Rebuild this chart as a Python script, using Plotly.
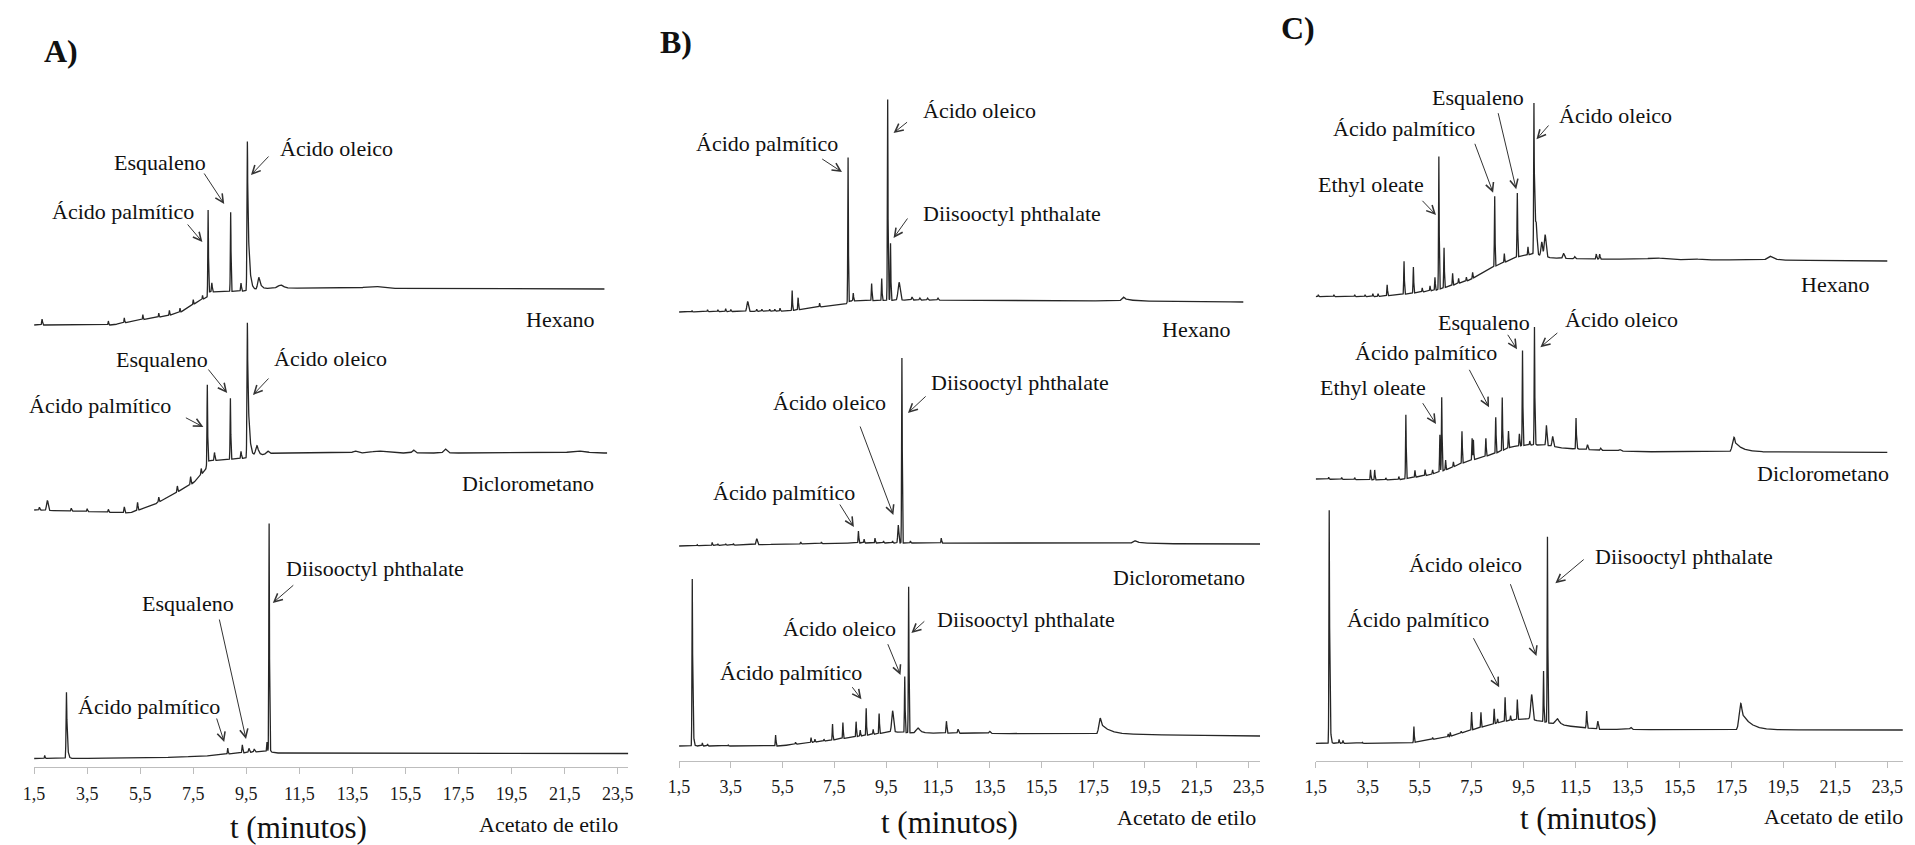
import numpy as np
import plotly.graph_objects as go

# ---------------- data: retention time (min) and detector signal (a.u.) ----------------
tick_vals = [1.5, 3.5, 5.5, 7.5, 9.5, 11.5, 13.5, 15.5, 17.5, 19.5, 21.5, 23.5]
tick_text = ["1,5", "3,5", "5,5", "7,5", "9,5", "11,5", "13,5", "15,5", "17,5", "19,5", "21,5", "23,5"]

# ---- Panel A ----
a_hex_base_t = [1.5, 4.45, 5.5, 6.5, 7.03, 7.66, 8.03, 8.08, 9.4, 10.5, 23.0]
a_hex_base_i = [442, 442, 447, 451, 455, 465, 470, 475, 476, 479, 478]
a_hex_pk_t = [1.8, 4.3, 4.9, 5.6, 6.2, 6.6, 7.0, 7.5, 7.85, 8.06, 8.2, 8.91, 9.3, 9.54, 9.97, 10.8, 14.3]
a_hex_pk_h = [6, 4, 5, 5, 4, 5, 4, 5, 4, 84, 9, 79, 8, 149, 12, 3, 2]
a_hex_pk_w = [.015, .012, .012, .012, .012, .012, .012, .012, .012, .012, .015, .012, .015, .015, .04, .1, .3]
a_hex_pk_tail = [0, 0, 0, 0, 0, 0, 0, 0, 0, 0, 0, 0, 0, .06, .08, 0, 0]

a_dic_base_t = [1.5, 5.1, 6.0, 6.7, 7.5, 7.96, 8.06, 9.5, 10.5, 23.1]
a_dic_base_i = [257, 254, 262, 272, 284, 297, 306, 309, 314, 314]
a_dic_pk_t = [1.7, 2.0, 2.9, 3.5, 4.3, 4.9, 5.4, 6.2, 6.9, 7.4, 7.8, 8.03, 8.3, 8.9, 9.3, 9.54, 9.9, 10.3, 13.6, 14.5, 15.8, 17.0, 22.0]
a_dic_pk_h = [3, 10, 3, 3, 3, 6, 8, 5, 6, 8, 6, 79, 8, 61, 7, 135, 10, 3, 2, 2, 3, 4, 2]
a_dic_pk_w = [.015, .03, .015, .015, .015, .015, .015, .015, .015, .015, .015, .012, .015, .012, .015, .015, .05, .05, .08, .25, .05, .06, .3]
a_dic_pk_tail = [0, 0, 0, 0, 0, 0, 0, 0, 0, 0, 0, 0, 0, 0, 0, .06, .06, 0, 0, 0, 0, 0, 0]

a_ace_base_t = [1.5, 6.0, 8.0, 8.8, 10.3, 10.6, 23.9]
a_ace_base_i = [8.5, 9, 11, 13, 16, 14, 13.5]
a_ace_pk_t = [1.9, 2.72, 8.8, 9.35, 9.6, 9.8, 10.28, 10.36]
a_ace_pk_h = [3, 66, 6, 8, 4, 3, 9, 228]
a_ace_pk_w = [.012, .015, .012, .015, .02, .02, .012, .012]
a_ace_pk_tail = [0, .03, 0, 0, 0, 0, 0, .01]

# ---- Panel B ----
b_hex_base_t = [1.5, 5.7, 6.93, 7.95, 8.1, 10.5, 18.5, 23.3]
b_hex_base_i = [448.7, 449.7, 453.7, 456.7, 459.7, 460.7, 459.7, 458.7]
b_hex_pk_t = [2.0, 2.6, 3.0, 3.3, 3.5, 4.15, 4.5, 4.7, 5.0, 5.2, 5.4, 5.87, 6.1, 6.93, 8.03, 8.23, 8.94, 9.33, 9.56, 9.67, 10.0, 10.5, 10.8, 11.1, 11.5, 18.66]
b_hex_pk_h = [1, 2, 2, 3, 2, 10, 2, 2, 2, 2, 3, 20, 12, 4, 145, 8, 17, 22, 201, 57, 18, 3, 2, 2, 2, 4]
b_hex_pk_w = [.012, .012, .012, .012, .012, .03, .012, .012, .012, .012, .012, .012, .012, .012, .012, .012, .012, .012, .012, .012, .04, .02, .02, .02, .02, .06]
b_hex_pk_tail = [0, 0, 0, 0, 0, 0, 0, 0, 0, 0, 0, 0, 0, 0, 0, 0, 0, 0, .01, 0, 0, 0, 0, 0, 0, .3]

b_dic_base_t = [1.5, 8.3, 10.5, 23.95]
b_dic_base_i = [214.7, 217.7, 217.7, 216.7]
b_dic_pk_t = [2.2, 2.78, 3.0, 3.3, 3.6, 4.5, 6.2, 7.0, 8.43, 8.65, 9.07, 9.4, 9.75, 9.97, 10.11, 10.44, 11.63, 19.1]
b_dic_pk_h = [1, 3, 1.5, 1.5, 1.5, 6, 2, 1.5, 12, 4, 5, 2, 2, 18, 185, 2, 5, 3]
b_dic_pk_w = [.012, .012, .012, .012, .012, .025, .012, .012, .012, .012, .012, .012, .012, .02, .012, .012, .012, .08]
b_dic_pk_tail = [0, 0, 0, 0, 0, 0, 0, 0, 0, 0, 0, 0, 0, 0, 0, 0, 0, .3]

b_ace_base_t = [1.5, 5.37, 7.25, 8.33, 9.75, 10.5, 17.5, 23.95]
b_ace_base_i = [14.7, 14.7, 20, 24, 29, 27.7, 26.7, 24.7]
b_ace_pk_t = [2.01, 2.4, 2.6, 3.4, 5.23, 6.0, 6.6, 6.75, 7.1, 7.43, 7.83, 8.34, 8.5, 8.73, 9.0, 9.23, 9.75, 10.22, 10.37, 10.73, 11.83, 12.28, 13.5, 17.77]
b_ace_pk_h = [167, 3, 2, 1, 11, 2, 5, 3, 2, 16, 16, 15, 6, 27, 5, 20, 21, 56, 146, 5, 12, 4, 2, 16]
b_ace_pk_w = [.012, .012, .012, .012, .012, .012, .012, .012, .012, .012, .012, .012, .012, .012, .012, .012, .035, .012, .012, .07, .015, .02, .03, .05]
b_ace_pk_tail = [.02, 0, 0, 0, 0, 0, 0, 0, 0, 0, 0, 0, 0, 0, 0, 0, 0, 0, 0, .1, 0, 0, 0, .35]

# ---- Panel C ----
c_hex_base_t = [1.5, 3.84, 5.0, 6.17, 7.43, 8.36, 9.3, 9.85, 10.6, 12.0, 23.5]
c_hex_base_i = [464, 464, 466.7, 470.7, 480.7, 494, 504, 506.7, 502.7, 501.7, 499.7]
c_hex_pk_t = [1.6, 2.2, 3.0, 3.4, 3.7, 3.9, 4.25, 4.9, 5.26, 5.6, 5.9, 6.09, 6.24, 6.44, 6.77, 7.0, 7.3, 7.54, 8.39, 8.76, 9.26, 9.67, 9.9, 9.99, 10.2, 10.33, 11.04, 11.47, 12.3, 12.43, 14.6, 16.0, 18.98]
c_hex_pk_h = [2, 2, 2, 2, 3, 3, 11, 33, 26, 4, 5, 13, 133, 40, 12, 5, 4, 6, 70, 9, 64, 8, 151, 25, 14, 22, 5, 2, 5, 5, 1.5, 1, 4]
c_hex_pk_w = [.012, .012, .012, .012, .012, .012, .012, .012, .012, .012, .012, .012, .012, .012, .012, .012, .012, .012, .012, .012, .012, .012, .012, .03, .03, .035, .03, .02, .015, .015, .3, .2, .1]
c_hex_pk_tail = [0, 0, 0, 0, 0, 0, 0, 0, 0, 0, 0, 0, 0, 0, 0, 0, 0, 0, 0, 0, 0, 0, .03, 0, 0, 0, 0, 0, 0, 0, 0, 0, .2]

c_dic_base_t = [1.5, 3.95, 4.77, 5.86, 6.5, 7.13, 7.77, 8.43, 9.04, 9.7, 10.3, 11.08, 12.22, 13.88, 23.5]
c_dic_base_i = [281.7, 280.7, 281.2, 285.7, 290.7, 297.4, 302.4, 307.4, 314, 315.7, 315.7, 312.4, 310.7, 309, 308.4]
c_dic_pk_t = [2.0, 2.5, 3.0, 3.61, 3.77, 4.2, 4.7, 4.97, 5.32, 5.71, 6.0, 6.28, 6.35, 6.5, 6.8, 7.13, 7.52, 7.57, 8.05, 8.43, 8.68, 8.92, 9.34, 9.46, 9.74, 9.92, 10.38, 10.62, 11.52, 11.96, 12.47, 13.2, 17.6]
c_dic_pk_h = [2, 2, 2, 10, 10, 2, 3, 64, 7, 6, 4, 37, 74, 10, 5, 32, 22, 20, 18, 36, 53, 17, 12, 95, 4, 118, 20, 10, 31, 5, 2, 1.5, 14.7]
c_dic_pk_w = [.012, .012, .012, .012, .012, .012, .012, .012, .012, .012, .012, .012, .012, .012, .012, .012, .012, .012, .012, .012, .012, .012, .012, .012, .012, .012, .02, .025, .012, .02, .02, .04, .06]
c_dic_pk_tail = [0, 0, 0, 0, 0, 0, 0, 0, 0, 0, 0, 0, 0, 0, 0, 0, 0, 0, 0, 0, 0, 0, 0, 0, 0, .01, 0, 0, .015, 0, 0, 0, .3]

c_ace_base_t = [1.5, 5.08, 6.64, 7.73, 8.67, 9.6, 10.85, 12.4, 17.6, 24.1]
c_ace_base_i = [17.4, 17.4, 24, 32.4, 39, 42.4, 35.7, 31.4, 30.7, 30.7]
c_ace_pk_t = [2.02, 2.4, 2.55, 3.3, 5.28, 6.0, 6.6, 6.68, 7.1, 7.5, 7.86, 8.37, 8.5, 8.79, 9.0, 9.26, 9.81, 10.27, 10.42, 10.8, 11.93, 12.36, 13.63, 17.86]
c_ace_pk_h = [233, 4, 3, 1, 16, 2, 3, 4, 2, 18, 15, 15, 4, 24, 5, 20, 25, 51, 186, 6, 17, 8, 2, 26.7]
c_ace_pk_w = [.012, .012, .012, .012, .012, .012, .012, .012, .012, .012, .012, .012, .012, .012, .012, .012, .035, .012, .012, .07, .015, .02, .03, .06]
c_ace_pk_tail = [.02, 0, 0, 0, 0, 0, 0, 0, 0, 0, 0, 0, 0, 0, 0, 0, 0, 0, 0, .1, 0, 0, 0, .35]

# ---------------- layout geometry (pixels of the 1915x845 page) ----------------
W, H = 1915, 845
panels = {
    # x pixel of t=1.5, pixels per minute, x range end, y pixel of the axis line
    "A": dict(x0=23.3, ppm=26.75, xend=23.9, axy=767.0, xa="x", ya="y"),
    "B": dict(x0=673.7, ppm=26.1, xend=23.95, axy=760.7, xa="x2", ya="y2"),
    "C": dict(x0=1315.7, ppm=26.2, xend=24.1, axy=760.7, xa="x3", ya="y3"),
}

LINE = "#262626"
FONT = "'Liberation Serif', 'Times New Roman', Tinos, 'DejaVu Serif', 'Noto Serif', serif"


def chromatogram(base_t, base_i, pk_t, pk_h, pk_w, pk_tail):
    grid = np.arange(1.5, base_t[-1] + 1e-9, 0.004)
    t = np.unique(np.concatenate([grid, np.array(pk_t)]))
    y = np.interp(t, base_t, base_i)
    for t0, h, w, tau in zip(pk_t, pk_h, pk_w, pk_tail):
        d = t - t0
        g = np.exp(-0.5 * (d / w) ** 2)
        if tau > 0:
            right = d > w
            g = np.where(right, np.exp(-0.5) * np.exp(-(d - w) / tau), g)
        y = y + h * g
    return t, y


traces = [
    ("A", a_hex_base_t, a_hex_base_i, a_hex_pk_t, a_hex_pk_h, a_hex_pk_w, a_hex_pk_tail),
    ("A", a_dic_base_t, a_dic_base_i, a_dic_pk_t, a_dic_pk_h, a_dic_pk_w, a_dic_pk_tail),
    ("A", a_ace_base_t, a_ace_base_i, a_ace_pk_t, a_ace_pk_h, a_ace_pk_w, a_ace_pk_tail),
    ("B", b_hex_base_t, b_hex_base_i, b_hex_pk_t, b_hex_pk_h, b_hex_pk_w, b_hex_pk_tail),
    ("B", b_dic_base_t, b_dic_base_i, b_dic_pk_t, b_dic_pk_h, b_dic_pk_w, b_dic_pk_tail),
    ("B", b_ace_base_t, b_ace_base_i, b_ace_pk_t, b_ace_pk_h, b_ace_pk_w, b_ace_pk_tail),
    ("C", c_hex_base_t, c_hex_base_i, c_hex_pk_t, c_hex_pk_h, c_hex_pk_w, c_hex_pk_tail),
    ("C", c_dic_base_t, c_dic_base_i, c_dic_pk_t, c_dic_pk_h, c_dic_pk_w, c_dic_pk_tail),
    ("C", c_ace_base_t, c_ace_base_i, c_ace_pk_t, c_ace_pk_h, c_ace_pk_w, c_ace_pk_tail),
]

fig = go.Figure()
for p, bt, bi, pt, ph, pw, ptail in traces:
    t, y = chromatogram(bt, bi, pt, ph, pw, ptail)
    fig.add_trace(go.Scatter(x=t, y=y, mode="lines", xaxis=panels[p]["xa"], yaxis=panels[p]["ya"],
                             line=dict(color=LINE, width=1.3), hoverinfo="skip", showlegend=False))

layout_axes = {}
for i, (p, cfg) in enumerate(panels.items()):
    sfx = "" if i == 0 else str(i + 1)
    x_start = cfg["x0"] / W
    x_end = (cfg["x0"] + (cfg["xend"] - 1.5) * cfg["ppm"]) / W
    layout_axes["xaxis" + sfx] = dict(
        domain=[x_start, x_end], range=[1.5, cfg["xend"]], anchor="y" + sfx,
        showline=True, linecolor="#bdbdbd", linewidth=1, ticks="outside", ticklen=6,
        tickcolor="#bdbdbd", tickwidth=1, tickvals=tick_vals, ticktext=tick_text,
        ticklabelstandoff=4,
        tickfont=dict(family=FONT, size=18, color="#1a1a1a"), showgrid=False, zeroline=False,
    )
    layout_axes["yaxis" + sfx] = dict(
        domain=[(H - cfg["axy"]) / H, 1.0], range=[0, cfg["axy"]], anchor="x" + sfx,
        visible=False, showgrid=False, zeroline=False,
    )

annotations = []


def label(text, X, Y, anchor="left", size=22, bold=False):
    annotations.append(dict(
        text=("<b>%s</b>" % text) if bold else text, x=X / W, y=1 - Y / H, xref="paper", yref="paper",
        xanchor=anchor, yanchor="middle", showarrow=False,
        font=dict(family=FONT, size=size, color="#111111")))


def arrow(x1, y1, x2, y2):
    annotations.append(dict(
        text="", x=x2 / W, y=1 - y2 / H, xref="paper", yref="paper",
        ax=x1 - x2, ay=y1 - y2, axref="pixel", ayref="pixel", showarrow=True,
        arrowhead=5, arrowsize=1.6, arrowwidth=1, arrowcolor="#333333", standoff=0))


# Panel A
label("A)", 31, 51, size=32, bold=True)
label("Ácido palmítico", 39, 211); arrow(177, 223, 193, 242)
label("Esqualeno", 102, 162); arrow(194, 172, 215, 204)
label("Ácido oleico", 269, 148); arrow(261, 155, 242, 175)
label("Hexano", 590, 320, anchor="right")
label("Esqualeno", 104, 360); arrow(198, 368, 218, 393)
label("Ácido oleico", 263, 358); arrow(261, 377, 244, 395)
label("Ácido palmítico", 16, 405); arrow(175, 417, 194, 427)
label("Diclorometano", 590, 483, anchor="right")
label("Diisooctyl phthalate", 275, 568); arrow(286, 584, 264, 603)
label("Esqualeno", 130, 603); arrow(210, 618, 237, 739)
label("Ácido palmítico", 66, 706); arrow(207, 717, 215, 742)
label("Acetato de etilo", 614, 824, anchor="right")
label("t (minutos)", 290, 827, anchor="center", size=31)

# Panel B
label("B)", 652, 42, size=32, bold=True)
label("Ácido palmítico", 689, 143); arrow(816.7, 158, 838, 172)
label("Ácido oleico", 917.5, 110); arrow(905, 121, 890, 133)
label("Diisooctyl phthalate", 917.5, 213); arrow(905, 217, 890, 238)
label("Hexano", 1231, 329, anchor="right")
label("Ácido oleico", 766.5, 402); arrow(856, 425, 889.8, 515)
label("Diisooctyl phthalate", 925.7, 382); arrow(923.7, 395, 904.5, 413)
label("Ácido palmítico", 706, 492); arrow(835, 503, 850, 527)
label("Diclorometano", 1246, 577, anchor="right")
label("Diisooctyl phthalate", 931.8, 619); arrow(922.4, 620, 908, 633)
label("Ácido oleico", 776.7, 628); arrow(883.7, 642.7, 897, 675)
label("Ácido palmítico", 712.7, 672.7); arrow(847.3, 685.7, 857.6, 699.3)
label("Acetato de etilo", 1258, 817, anchor="right")
label("t (minutos)", 946, 822, anchor="center", size=31)

# Panel C
label("C)", 1279, 28, size=32, bold=True)
label("Esqualeno", 1431.3, 97.3); arrow(1499.5, 111.7, 1517.9, 189.3)
label("Ácido palmítico", 1331, 128.3); arrow(1475.8, 142.3, 1494.6, 192.7)
label("Ácido oleico", 1559.5, 116); arrow(1551.7, 124, 1538.3, 139.3)
label("Ethyl oleate", 1315.8, 184); arrow(1422, 199.3, 1437, 215)
label("Hexano", 1875.8, 284.3, anchor="right")
label("Esqualeno", 1437, 322.7); arrow(1508.5, 333.3, 1518.7, 349.3)
label("Ácido oleico", 1564.8, 319.3); arrow(1560.7, 331.7, 1542.3, 347.3)
label("Ácido palmítico", 1353.8, 352.7); arrow(1470, 368.3, 1490.5, 407.3)
label("Ethyl oleate", 1317.9, 387.3); arrow(1422.8, 401.7, 1437, 424)
label("Diclorometano", 1895.4, 473.3, anchor="right")
label("Diisooctyl phthalate", 1595.4, 556.7); arrow(1587.2, 558.3, 1557.4, 583.3)
label("Ácido oleico", 1407.7, 564); arrow(1511.7, 582.7, 1538.3, 656)
label("Ácido palmítico", 1345.6, 619.3); arrow(1474.2, 636.7, 1500.7, 687.3)
label("Acetato de etilo", 1909.7, 816, anchor="right")
label("t (minutos)", 1591, 818, anchor="center", size=31)

fig.update_layout(
    width=W, height=H, margin=dict(l=0, r=0, t=0, b=0),
    paper_bgcolor="white", plot_bgcolor="rgba(0,0,0,0)",
    font=dict(family=FONT, color="#111111"),
    showlegend=False, annotations=annotations, **layout_axes,
)

fig.write_html("out.html", config={"displayModeBar": False})
